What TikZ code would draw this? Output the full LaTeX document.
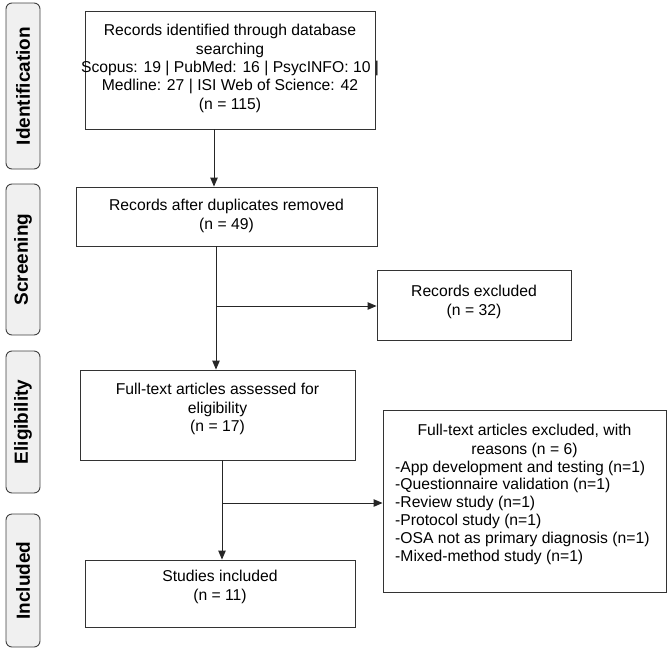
\documentclass[tikz,border=0pt]{standalone}
\usepackage{fontspec}
\setmainfont{Liberation Sans}
\usetikzlibrary{arrows.meta}
\begin{document}
\begin{tikzpicture}[x=1pt,y=-1pt,
  box/.style={draw=black!80,line width=0.9pt,fill=white,inner sep=0pt},
  txt/.style={align=center,inner sep=0pt,font=\fontsize{15.7}{18.3}\selectfont},
  phase/.style={draw=black!75,line width=0.9pt,fill=black!6,rounded corners=6pt,inner sep=0pt,
    minimum width=34pt},
  ptxt/.style={rotate=90,inner sep=0pt,font=\bfseries\fontsize{19}{21}\selectfont},
  arr/.style={draw=black!85,line width=0.9pt,-{Triangle[length=9pt,width=7.5pt]}}]
\useasboundingbox (0,0) rectangle (669,651);
% phase labels
\node[phase,minimum height=166pt] (p1) at (23,86) {};
\node[ptxt] (t1) at (p1.center) {Identification};
\node[phase,minimum height=151pt] (p2) at (23,259.5) {};
\node[ptxt] (t2) at (p2.center) {Screening};
\node[phase,minimum height=142pt] (p3) at (23,422) {};
\node[ptxt] (t3) at (p3.center) {Eligibility};
\node[phase,minimum height=133pt] (p4) at (23,580.5) {};
\node[ptxt] (t4) at (p4.center) {Included};
% boxes
\node[box,minimum width=290pt,minimum height=118pt] (b1) at (230,70) {};
\node[txt] (b1t) at (230,68.5) {Records identified through database\\searching\\Scopus: 19 | PubMed: 16 | PsycINFO: 10 |\\Medline: 27 | ISI Web of Science: 42\\(n = 115)};
\node[box,minimum width=301pt,minimum height=59pt] (b2) at (226.5,216.5) {};
\node[txt] (b2t) at (226.5,216) {Records after duplicates removed\\(n = 49)};
\node[box,minimum width=194pt,minimum height=70pt] (ex1) at (474,305) {};
\node[txt] (ex1t) at (474,302) {Records excluded\\(n = 32)};
\node[box,minimum width=275pt,minimum height=90pt] (b3) at (217.5,415) {};
\node[txt] (b3t) at (217.5,409) {Full-text articles assessed for\\eligibility\\(n = 17)};
\node[box,minimum width=283pt,minimum height=182pt] (ex2) at (524.5,501) {};
\node[txt] (ex2a) at (524.5,441) {Full-text articles excluded, with\\reasons (n = 6)};
\node[txt,align=left,anchor=north west,font=\fontsize{15.7}{17.8}\selectfont] (ex2b) at (395,460.5) {-App development and testing (n=1)\\-Questionnaire validation (n=1)\\-Review study (n=1)\\-Protocol study (n=1)\\-OSA not as primary diagnosis (n=1)\\-Mixed-method study (n=1)};
\node[box,minimum width=270pt,minimum height=67pt] (b4) at (220,593.5) {};
\node[txt] (b4t) at (220,587) {Studies included\\(n = 11)};
% connectors
\coordinate (c1) at (214,0);
\coordinate (c2) at (216,0);
\coordinate (c3) at (222,0);
\coordinate (j1) at (216,306);
\coordinate (j2) at (222,503);
\draw[arr] (b1.south -| c1) -- (b2.north -| c1);
\draw[arr] (b2.south -| c2) -- (b3.north -| c2);
\draw[arr] (j1) -- (j1 -| ex1.west);
\draw[arr] (b3.south -| c3) -- (b4.north -| c3);
\draw[arr] (j2) -- (j2 -| ex2.west);
\end{tikzpicture}
\end{document}
